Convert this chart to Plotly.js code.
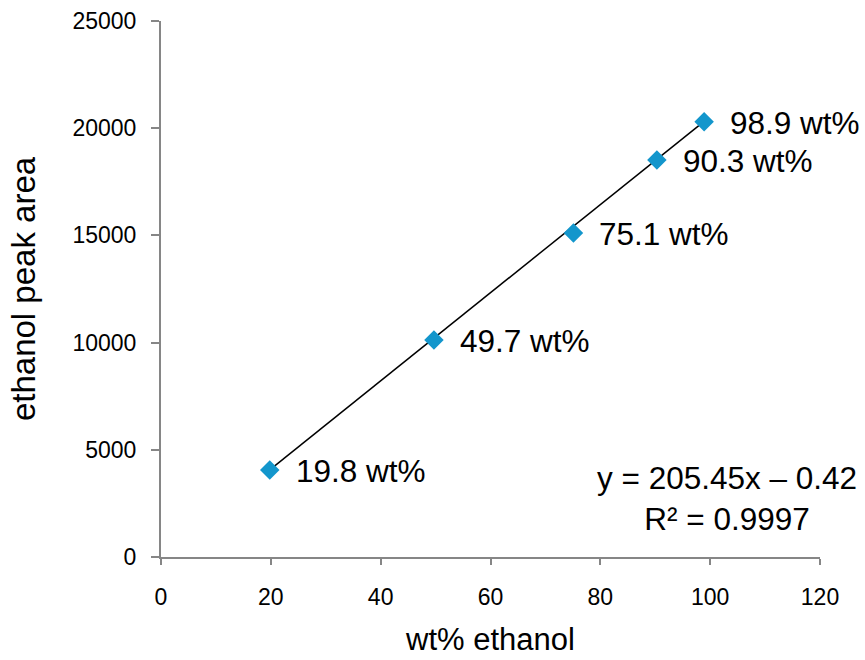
<!DOCTYPE html>
<html><head><meta charset="utf-8">
<script src="https://cdn.plot.ly/plotly-3.0.1.min.js"></script>
<style>body{margin:0;background:#fff}#c{width:865px;height:660px}</style>
</head><body><div id="c"></div>
<script>
const wtPercent = [19.8, 49.7, 75.1, 90.3, 98.9];
const peakArea = [4060, 10120, 15110, 18520, 20300];
const pointLabels = ["19.8 wt%", "49.7 wt%", "75.1 wt%", "90.3 wt%", "98.9 wt%"];
const slope = 205.45;
const intercept = -0.42;
const equationText = "y = 205.45x \u2013 0.42<br>R\u00b2 = 0.9997";
const xTitle = "wt% ethanol";
const yTitle = "ethanol peak area";

const xMin = Math.min(...wtPercent), xMax = Math.max(...wtPercent);
const fitX = [xMin, xMax];
const fitY = fitX.map(x => slope * x + intercept);

const font = "Liberation Sans, Arial, sans-serif";
const axisColor = "#868686";

const traces = [
  {x: fitX, y: fitY, mode: "lines", line: {color: "#000", width: 1.5}, hoverinfo: "skip"},
  {x: wtPercent, y: peakArea, mode: "markers",
   marker: {symbol: "diamond", size: 15, color: "#1396CC"}}
];

const annotations = wtPercent.map((x, i) => ({
  x: x, y: peakArea[i], xref: "x", yref: "y", text: pointLabels[i],
  showarrow: false, xanchor: "left", yanchor: "middle", xshift: 24, yshift: -1,
  font: {family: font, size: 31.5, color: "#000"}
}));
annotations.push({
  x: 0.859, y: 0.11, xref: "paper", yref: "paper", text: equationText,
  showarrow: false, xanchor: "center", yanchor: "middle", align: "center",
  font: {family: font, size: 31.5, color: "#000"}
});

const layout = {
  width: 865, height: 660,
  margin: {l: 161, r: 45, t: 21, b: 103},
  paper_bgcolor: "#fff", plot_bgcolor: "#fff",
  showlegend: false,
  font: {family: font, color: "#000"},
  xaxis: {
    range: [0, 120], dtick: 20, tickformat: "d", showgrid: false, zeroline: false,
    showline: true, linecolor: axisColor, linewidth: 2,
    ticks: "outside", ticklen: 6, tickcolor: axisColor, tickwidth: 2,
    tickfont: {family: font, size: 23, color: "#000"}, ticklabelstandoff: 12,
    title: {text: xTitle, font: {family: font, size: 31, color: "#000"}, standoff: 20}
  },
  yaxis: {
    range: [0, 25000], dtick: 5000, tickformat: "d", showgrid: false, zeroline: false,
    showline: true, linecolor: axisColor, linewidth: 2,
    ticks: "outside", ticklen: 8, tickcolor: axisColor, tickwidth: 2,
    tickfont: {family: font, size: 23, color: "#000"}, ticklabelstandoff: 10,
    title: {text: yTitle, font: {family: font, size: 33, color: "#000"}, standoff: 27}
  },
  annotations: annotations
};
Plotly.newPlot("c", traces, layout, {displayModeBar: false, staticPlot: true});
</script></body></html>
